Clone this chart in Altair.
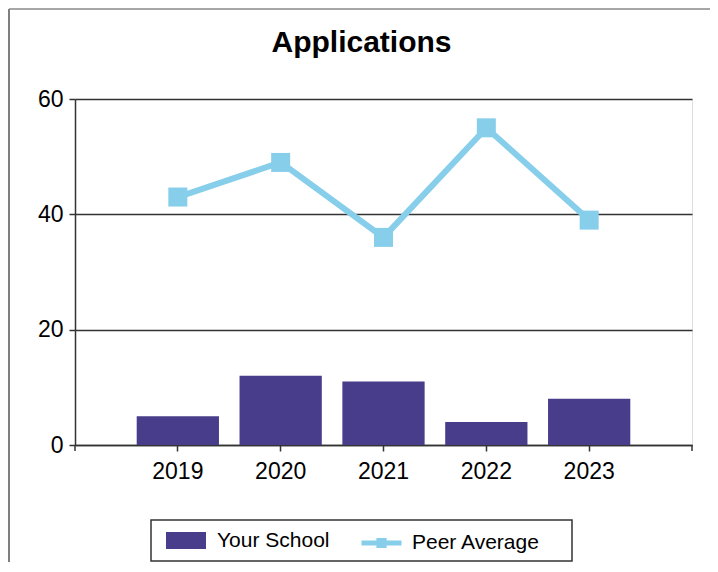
import altair as alt
import pandas as pd

years = ["2019", "2020", "2021", "2022", "2023"]
your_school = [5, 12, 11, 4, 8]
peer_average = [43, 49, 36, 55, 39]
bar_color = "#483D8B"
line_color = "#87CEEB"
y_ticks = [0, 20, 40, 60]

rows = []
for y, a, b in zip(years, your_school, peer_average):
    rows.append({"year": y, "series": "Your School", "value": a})
    rows.append({"year": y, "series": "Peer Average", "value": b})
df = pd.DataFrame(rows)

W, H = 617, 346
FONT = "Liberation Sans"

legend_common = dict(
    title=None, orient="none", direction="horizontal", symbolSize=1600,
    labelFontSize=21, labelFont=FONT, labelColor="black", labelOffset=11, padding=0,
)

fill = alt.Fill(
    "series:N",
    scale=alt.Scale(domain=["Your School"], range=[bar_color]),
    legend=alt.Legend(legendX=91, legendY=421.5,
                      symbolType="M-1,-0.42H1V0.42H-1Z", symbolStrokeWidth=0,
                      **legend_common),
)
stroke = alt.Stroke(
    "series:N",
    scale=alt.Scale(domain=["Peer Average"], range=[line_color]),
    legend=alt.Legend(legendX=284, legendY=421.5,
                      symbolType="M-1,0H1M-0.13,-0.13H0.13V0.13H-0.13Z",
                      symbolStrokeWidth=5, labelOffset=8,
                      **{k: v for k, v in legend_common.items() if k != "labelOffset"}),
)

x = alt.X(
    "year:N",
    sort=years,
    scale=alt.Scale(paddingInner=0.2, paddingOuter=0.6),
    axis=alt.Axis(title=None, labelAngle=0, labelFontSize=23, labelFont=FONT,
                  labelColor="black", tickSize=6, labelPadding=9,
                  domainColor="#333", tickColor="#333", domainWidth=1.5, tickWidth=1.5),
)
y = alt.Y(
    "value:Q",
    scale=alt.Scale(domain=[0, 60]),
    axis=alt.Axis(title=None, values=y_ticks, labelFontSize=23, labelFont=FONT,
                  labelColor="black", tickSize=6, labelPadding=6,
                  domainColor="#333", tickColor="#333", domainWidth=1.5, tickWidth=1.5,
                  grid=True, gridColor="#333", gridWidth=1.5),
)

base = alt.Chart(df)

bars = base.transform_filter(alt.datum.series == "Your School").mark_bar().encode(
    x=x, y=y, fill=fill
)
peer = base.transform_filter(alt.datum.series == "Peer Average")
line = peer.mark_line(strokeWidth=6).encode(x=x, y=y, stroke=stroke)
points = peer.mark_point(shape="square", size=361, filled=True, opacity=1,
                         color=line_color).encode(x=x, y=y)

one = alt.Data(values=[{"k": 1}])
end_ticks = alt.Chart(one).mark_rule(color="#333", strokeWidth=1.5).encode(
    x=alt.value(0), y=alt.value(H), y2=alt.value(H + 6)
) + alt.Chart(one).mark_rule(color="#333", strokeWidth=1.5).encode(
    x=alt.value(W), y=alt.value(H), y2=alt.value(H + 6)
)
legend_box = alt.Chart(one).mark_rect(fill="white", fillOpacity=0, stroke="#333",
                                      strokeWidth=1.5, clip=False).encode(
    x=alt.value(76), x2=alt.value(497), y=alt.value(421), y2=alt.value(462)
)
frame = alt.Chart(one).mark_rule(color="#555", strokeWidth=1.5, clip=False).encode(
    x=alt.value(-66), y=alt.value(-90), y2=alt.value(463)
) + alt.Chart(one).mark_rule(color="#888", strokeWidth=1.5, clip=False).encode(
    x=alt.value(-66), x2=alt.value(635), y=alt.value(-90)
)

chart = alt.layer(bars, line, points, end_ticks, legend_box, frame).resolve_legend(
    fill="independent", stroke="independent"
).properties(
    width=W,
    height=H,
    padding={"left": 67, "top": 91, "right": 18, "bottom": 117},
    autosize=alt.AutoSizeParams(type="none"),
    title=alt.TitleParams(
        "Applications", fontSize=30, fontWeight="bold", font=FONT, color="black",
        anchor="middle", frame="group", dx=-22, offset=-74, baseline="alphabetic",
    ),
).configure_view(stroke="#333", strokeWidth=1.5).configure(background="white")

chart.save("out.html", embed_options={"renderer": "svg", "actions": False})
